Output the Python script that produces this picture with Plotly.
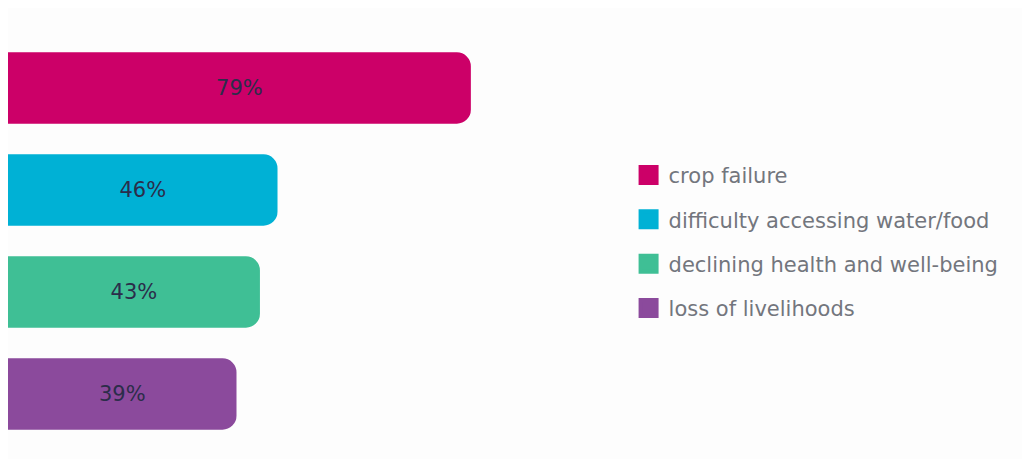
import plotly.graph_objects as go

categories = ["crop failure", "difficulty accessing water/food",
              "declining health and well-being", "loss of livelihoods"]
values = [79, 46, 43, 39]
colors = ["#CC0068", "#00B1D5", "#3FBF95", "#8B4A9C"]

fig = go.Figure()

for cat, v, c in zip(categories, values, colors):
    fig.add_trace(go.Bar(
        y=[cat],
        x=[v],
        orientation="h",
        name=cat,
        legendgroup=cat,
        showlegend=False,
        marker=dict(color=c, cornerradius=14, line=dict(width=0)),
        width=0.7,
        text=[f"{v}%"],
        textposition="inside",
        insidetextanchor="middle",
        textfont=dict(family="DejaVu Sans", size=21, color="#2b2d4a"),
        hoverinfo="skip",
    ))
    # legend entry with a bigger square swatch
    fig.add_trace(go.Scatter(
        x=[None], y=[None],
        mode="markers",
        name=cat,
        legendgroup=cat,
        marker=dict(symbol="square", size=16, color=c,
                    line=dict(color=c, width=4)),
        hoverinfo="skip",
    ))

fig.update_layout(
    width=1030,
    height=459,
    barmode="overlay",
    plot_bgcolor="#fdfdfd",
    paper_bgcolor="#fdfdfd",
    margin=dict(l=0, r=0, t=29, b=22),
    showlegend=True,
    legend=dict(
        x=0.6025,
        y=0.711,
        xanchor="left",
        yanchor="top",
        font=dict(family="DejaVu Sans", size=21, color="#73767d"),
        tracegroupgap=14,
        bgcolor="rgba(0,0,0,0)",
    ),
    xaxis=dict(range=[0, 175.8], visible=False, fixedrange=True),
    yaxis=dict(categoryorder="array", categoryarray=categories[::-1],
               visible=False, fixedrange=True),
)

fig.write_html("out.html")
